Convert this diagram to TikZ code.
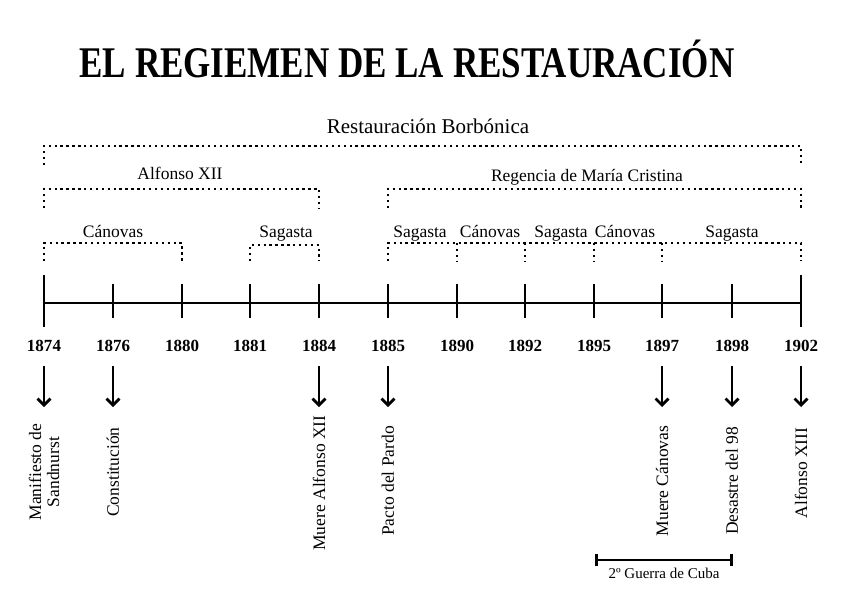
\documentclass[tikz,border=0pt]{standalone}
\usepackage{fontspec}
\setmainfont{Liberation Serif}
\usetikzlibrary{positioning, arrows.meta}

\begin{document}
\begin{tikzpicture}[
    x=1pt, y=-1pt,
    % Timeline
    axis/.style={line width=2.6pt},
    tick/.style={line width=2.4pt},
    % Brackets
    bracket/.style={line width=2.6pt, dash pattern=on 2.4pt off 3.5pt},
    % Labels
    title_text/.style={font=\fontsize{35}{40}\selectfont\bfseries},
    period_big/.style={font=\fontsize{21}{25}\selectfont, anchor=base},
    period_text/.style={font=\fontsize{17.5}{21}\selectfont, anchor=base},
    year_text/.style={font=\fontsize{17}{20}\selectfont\bfseries},
    event_text/.style={font=\fontsize{17.5}{18}\selectfont, rotate=90, align=center},
    small_text/.style={font=\fontsize{15}{17}\selectfont},
    % Arrows
    event_arrow/.style={-{Straight Barb[length=6.5pt, width=13pt]}, line width=2.8pt},
    span_bar/.style={{Bar[width=12pt]}-{Bar[width=12pt]}, line width=2.6pt}
]
    \useasboundingbox (0,0) rectangle (848,600);

    % --- TITLE ---
    \node[title_text] (title) at (407,59) {\scalebox{1}[1.25]{EL REGIEMEN DE LA RESTAURACIÓN}};

    % --- TIMELINE ---
    \foreach \x/\yr in {44/1874, 113/1876, 182/1880, 250/1881, 319/1884, 388/1885,
                        457/1890, 525/1892, 594/1895, 662/1897, 732/1898, 801/1902} {
        \coordinate (t\yr) at (\x,303);
        \node[year_text] (y\yr) at (\x,346) {\yr};
    }
    \draw[axis] (t1874) -- (t1902);
    \foreach \yr in {1876, 1880, 1881, 1884, 1885, 1890, 1892, 1895, 1897, 1898} {
        \draw[tick] ([yshift=19pt]t\yr) -- ([yshift=-15pt]t\yr);
    }
    \foreach \yr in {1874, 1902} {
        \draw[axis] ([yshift=28pt]t\yr) -- ([yshift=-24pt]t\yr);
    }

    % --- PERIODS ---
    \node[period_big] (restauracion) at (428,133) {Restauración Borbónica};
    \draw[bracket] (44,165) -- (44,146) -- (801,146) -- (801,165);

    \node[period_text] (alfonso) at (180,179) {Alfonso XII};
    \draw[bracket] (44,208) -- (44,189) -- (319,189) -- (319,208);
    \node[period_text] (regencia) at (587,181) {Regencia de María Cristina};
    \draw[bracket] (388,208) -- (388,189) -- (801,189) -- (801,208);

    % Governments
    \node[period_text] (g1) at (113,237) {Cánovas};
    \draw[bracket] (44,261) -- (44,243) -- (182,243) -- (182,261);
    \node[period_text] (g2) at (286,237) {Sagasta};
    \draw[bracket] (250,261) -- (250,245) -- (319,245) -- (319,261);
    \foreach \x/\gov/\n in {420/Sagasta/3, 490/Cánovas/4, 561/Sagasta/5, 625/Cánovas/6, 732/Sagasta/7} {
        \node[period_text] (g\n) at (\x,237) {\gov};
    }
    \draw[bracket] (388,261) -- (388,243) -- (801,243) -- (801,261);
    \foreach \x in {457, 525, 594, 662} {
        \draw[bracket] (\x,243) -- (\x,261);
    }

    % --- EVENTS ---
    \node[event_text] (e1874) at (44,472) {Manifiesto de\\Sandnurst};
    \node[event_text] (e1876) at (113,472) {Constitución};
    \node[event_text] (e1884) at (319,483) {Muere Alfonso XII};
    \node[event_text] (e1885) at (388,481) {Pacto del Pardo};
    \node[event_text] (e1897) at (662,481) {Muere Cánovas};
    \node[event_text] (e1898) at (732,481) {Desastre del 98};
    \node[event_text] (e1902) at (801,473) {Alfonso XIII};

    \foreach \x/\yr in {44/1874, 113/1876, 319/1884, 388/1885, 662/1897, 732/1898, 801/1902} {
        \coordinate (h\yr) at (\x,407);
        \draw[event_arrow, shorten <=11pt] (y\yr) -- (h\yr);
    }

    % --- 2a GUERRA DE CUBA ---
    \coordinate (cuba1) at (595,560);
    \coordinate (cuba2) at (733,560);
    \draw[span_bar] (cuba1) -- (cuba2)
        node[midway, below=3pt, small_text] (cuba) {2º Guerra de Cuba};

\end{tikzpicture}
\end{document}
